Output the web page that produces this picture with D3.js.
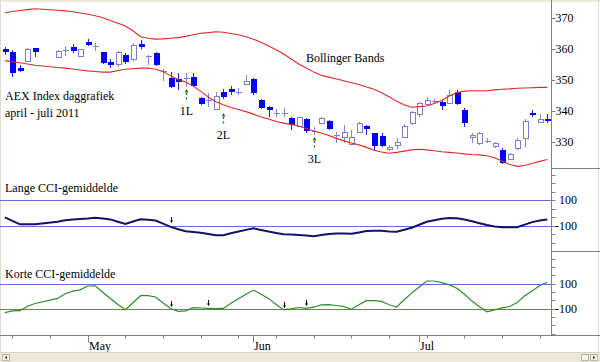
<!DOCTYPE html>
<html>
<head>
<meta charset="utf-8">
<script src="https://cdn.jsdelivr.net/npm/d3@7"></script>
<style>
  body { margin: 0; background: #fff; }
  svg { display: block; font-family: "Liberation Serif", "Times New Roman", serif; }
</style>
</head>
<body>
<svg id="chart" width="600" height="362"></svg>
<script>
// trading days (Euronext closed on 22 and 25 April)
const dates = [
  "2011-04-15", "2011-04-18", "2011-04-19", "2011-04-20", "2011-04-21",
  "2011-04-26", "2011-04-27", "2011-04-28", "2011-04-29",
  "2011-05-02", "2011-05-03", "2011-05-04", "2011-05-05", "2011-05-06",
  "2011-05-09", "2011-05-10", "2011-05-11", "2011-05-12", "2011-05-13",
  "2011-05-16", "2011-05-17", "2011-05-18", "2011-05-19", "2011-05-20",
  "2011-05-23", "2011-05-24", "2011-05-25", "2011-05-26", "2011-05-27",
  "2011-05-30", "2011-05-31", "2011-06-01", "2011-06-02", "2011-06-03",
  "2011-06-06", "2011-06-07", "2011-06-08", "2011-06-09", "2011-06-10",
  "2011-06-13", "2011-06-14", "2011-06-15", "2011-06-16", "2011-06-17",
  "2011-06-20", "2011-06-21", "2011-06-22", "2011-06-23", "2011-06-24",
  "2011-06-27", "2011-06-28", "2011-06-29", "2011-06-30", "2011-07-01",
  "2011-07-04", "2011-07-05", "2011-07-06", "2011-07-07", "2011-07-08",
  "2011-07-11", "2011-07-12", "2011-07-13", "2011-07-14", "2011-07-15",
  "2011-07-18", "2011-07-19", "2011-07-20", "2011-07-21", "2011-07-22",
  "2011-07-25", "2011-07-26"
];

const open = [
  359.8, 359.0, 353.8, 356.2, 360.2,
  357.3, 359.3, 360.7, 357.8,
  362.1, 360.6, 358.9, 355.7, 355.1,
  358.0, 356.6, 361.4, 357.6, 358.7,
  352.9, 350.5, 350.2, 350.4, 351.0,
  344.3, 343.4, 340.6, 346.0, 347.1,
  345.9, 348.7, 350.3, 343.5, 341.4,
  339.2, 339.2, 337.7, 335.3, 337.3,
  333.6, 336.0, 336.9, 332.2, 331.7,
  329.4, 333.3, 335.2, 332.8, 332.0,
  327.8, 329.1, 331.5, 336.0, 338.9,
  342.2, 343.0, 343.0, 342.7, 346.0,
  340.3, 331.5, 329.6, 330.3, 328.8,
  327.5, 324.6, 328.2, 331.2, 339.3,
  336.6, 337.4
];
const high = [
  360.6, 359.6, 354.8, 360.2, 360.4,
  359.6, 361.0, 361.4, 359.9,
  363.1, 361.8, 359.1, 356.7, 359.4,
  358.7, 362.0, 362.8, 358.0, 359.1,
  353.5, 352.6, 352.3, 352.3, 352.3,
  344.6, 345.8, 346.2, 347.0, 348.0,
  347.3, 351.6, 350.5, 343.8, 341.7,
  340.5, 340.9, 338.0, 338.2, 337.7,
  335.0, 338.2, 337.1, 333.3, 335.5,
  333.9, 336.6, 335.5, 333.0, 332.8,
  329.1, 331.2, 335.7, 340.0, 343.0,
  344.4, 343.8, 343.5, 346.8, 346.8,
  340.9, 332.8, 333.3, 331.4, 330.1,
  328.0, 326.6, 331.2, 337.4, 340.3,
  338.9, 338.9
];
const low = [
  358.0, 351.0, 352.5, 355.9, 357.5,
  356.9, 357.7, 358.7, 357.7,
  360.9, 359.3, 355.1, 353.8, 354.1,
  355.0, 356.2, 359.8, 354.8, 354.5,
  349.6, 347.3, 346.8, 347.6, 347.8,
  341.9, 341.3, 340.3, 343.8, 345.1,
  345.1, 348.4, 345.1, 340.6, 338.2,
  338.2, 338.2, 333.9, 334.9, 333.0,
  332.3, 335.7, 333.9, 329.6, 329.6,
  329.0, 332.8, 332.3, 327.2, 328.3,
  327.2, 327.7, 331.2, 335.5, 338.2,
  341.7, 342.3, 340.3, 342.3, 341.9,
  334.8, 329.6, 329.1, 329.6, 328.0,
  323.0, 324.2, 327.5, 328.5, 338.0,
  336.2, 336.2
];
const close = [
  359.0, 352.3, 353.0, 359.8, 359.0,
  359.4, 359.5, 359.4, 359.8,
  361.3, 360.8, 355.5, 354.8, 358.9,
  355.9, 361.2, 360.5, 357.7, 354.8,
  353.0, 347.6, 349.2, 350.6, 348.1,
  342.3, 343.6, 344.9, 344.4, 346.0,
  346.1, 349.6, 345.9, 340.9, 340.3,
  339.3, 339.4, 335.5, 338.0, 333.6,
  333.7, 337.7, 334.1, 332.4, 333.2,
  331.5, 336.0, 334.1, 328.7, 328.7,
  328.5, 330.1, 335.3, 339.6, 342.5,
  343.5, 343.1, 341.6, 345.1, 342.3,
  336.0, 332.3, 333.0, 330.4, 329.6,
  323.2, 326.2, 330.7, 336.9, 338.7,
  337.4, 336.9
];

const bbUpper = [
  371.6, 372.0, 372.3, 372.6, 372.9,
  372.4, 372.2, 371.9, 371.5,
  371.1, 370.6, 370.0, 369.1, 368.2,
  367.3, 365.8, 363.9, 363.4, 363.1,
  363.2, 363.4, 363.6, 364.0, 364.5,
  365.0, 365.2, 365.5, 365.3, 364.9,
  364.5, 363.9, 363.1, 362.1, 360.9,
  359.7, 358.3, 356.7, 355.1, 353.8,
  352.5, 351.5, 350.9, 350.3, 349.7,
  349.1, 348.5, 347.7, 347.0, 345.9,
  344.6, 343.1, 342.0, 341.2, 341.4,
  341.6, 342.4, 343.4, 344.8, 345.9,
  346.4, 346.5, 346.5, 346.5, 346.8,
  347.0, 347.1, 347.3, 347.4, 347.5,
  347.6, 347.6
];
const bbLower = [
  356.2, 355.8, 355.5, 355.1, 354.7,
  354.0, 353.8, 353.5, 353.2,
  352.9, 352.7, 352.5, 352.5, 353.0,
  353.4, 353.6, 353.8, 353.8, 353.4,
  352.7, 351.3, 350.1, 349.3, 348.0,
  346.3, 344.5, 343.0, 342.0, 341.1,
  340.5, 339.8, 339.0, 338.1, 337.4,
  336.6, 336.1, 335.7, 335.2, 334.4,
  333.6, 332.9, 332.1, 331.2, 330.4,
  329.7, 329.1, 328.3, 327.4, 326.8,
  326.4, 326.7, 327.1, 327.5, 327.7,
  327.5, 327.2, 326.9, 326.7, 326.5,
  326.2, 326.0, 325.9, 325.6, 325.0,
  323.9, 322.8, 322.2, 322.5, 323.1,
  323.8, 324.4
];

const cciLong = [
  -36.5, -63.1, -90.6, -90.6, -90.6,
  -71.0, -59.2, -53.7, -49.8,
  -45.9, -39.6, -44.3, -52.2, -70.2,
  -87.5, -68.6, -51.4, -55.3, -60.8,
  -85.9, -111.0, -129.8, -144.7, -151.0,
  -157.3, -167.5, -176.9, -176.1, -161.2,
  -147.8, -134.5, -122.0, -134.5, -146.3,
  -158.0, -169.0, -171.4, -173.7, -179.2,
  -183.9, -174.5, -165.9, -162.7, -163.5,
  -165.1, -154.1, -143.9, -141.6, -141.6,
  -146.3, -148.6, -133.7, -117.3, -93.7,
  -70.2, -58.4, -47.4, -42.0, -43.5,
  -53.7, -67.1, -82.0, -96.1, -107.1,
  -114.1, -114.1, -113.3, -92.9, -73.3,
  -61.6, -52.2
];
const cciShort = [
  -133.6, -119.2, -117.6, -81.6, -60.0,
  -19.2, 18.4, 39.2, 48.8,
  80.0, 80.8, 29.6, -20.0, -68.0,
  -109.6, -54.4, 2.4, 2.4, -8.0,
  -55.2, -100.0, -123.2, -119.2, -93.6,
  -96.0, -98.4, -100.8, -99.2, -58.4,
  -22.4, 13.6, 47.2, 13.6, -19.2,
  -67.2, -109.6, -103.2, -92.0, -98.4,
  -89.6, -71.2, -69.6, -76.0, -85.6,
  -105.6, -69.6, -37.6, -37.6, -43.2,
  -70.4, -88.0, -30.4, 23.2, 72.0,
  120.0, 120.0, 107.2, 88.8, 61.6,
  13.6, -40.8, -86.4, -126.4, -111.2,
  -94.4, -84.0, -52.8, 2.4, 40.8,
  84.0, 110.4
];

const priceTicks = [330, 340, 350, 360, 370];
const cciTicks = [100, -100];

// small black arrows on the CCI lines
const longMarks = ["2011-05-17"];
const shortMarks = ["2011-05-17", "2011-05-24", "2011-06-07", "2011-06-10"];

// green "L" signals under the candles
const signalDates = ["2011-05-19", "2011-05-26", "2011-06-13"];
const signalLabels = ["1L", "2L", "3L"];
const signalPrices = [347.1, 339.3, 331.7];

const svg = d3.select("#chart");
const W = 600, H = 362;
const axisX = 551.5;
const axisY = 335.5;

const parseDate = d3.timeParse("%Y-%m-%d");
const days = dates.map(parseDate);
const first = days[0], last = days[days.length - 1];
const isWeekday = d => d.getDay() !== 0 && d.getDay() !== 6;
const slotOf = d => d3.timeDay.range(first, d).filter(isWeekday).length;

const x = d3.scaleLinear().domain([0, slotOf(last)]).range([4.9, 547.3]);
const yP = d3.scaleLinear().domain([330, 370]).range([142.1, 17.7]);
const yL = d3.scaleLinear().domain([-100, 100]).range([225.5, 200]);
const yS = d3.scaleLinear().domain([-100, 100]).range([308.5, 283.5]);

const rows = days.map((d, i) => ({
  date: dates[i], slot: slotOf(d),
  o: open[i], h: high[i], l: low[i], c: close[i],
  up: bbUpper[i], lo: bbLower[i], cl: cciLong[i], cs: cciShort[i]
}));
const bySlotDate = new Map(rows.map(r => [r.date, r]));
const px = d => Math.round(x(d.slot));

// frame
svg.append("rect").attr("width", W).attr("height", H).attr("fill", "#fff");
svg.append("rect").attr("width", W).attr("height", 2).attr("fill", "#ece9d8");
svg.append("line").attr("x1", 0.5).attr("x2", 0.5).attr("y1", 0).attr("y2", 352)
  .attr("stroke", "#dedbd0");
svg.append("line").attr("x1", 598.5).attr("x2", 598.5).attr("y1", 0).attr("y2", 352)
  .attr("stroke", "#dedbd0");

// CCI reference lines
const refG = svg.append("g").attr("stroke", "#6a6ad4").attr("stroke-width", 1);
[yL, yS].forEach(sc => {
  refG.selectAll(null)
    .data(cciTicks)
    .enter()
    .append("line")
    .attr("x1", 0).attr("x2", axisX)
    .attr("y1", d => Math.round(sc(d)) + 0.5)
    .attr("y2", d => Math.round(sc(d)) + 0.5);
});

// Candles
const bear = d => d.c < d.o;
const doji = d => Math.abs(d.c - d.o) < 0.4;
const candleG = svg.append("g");

candleG.selectAll("line.wick")
  .data(rows)
  .enter()
  .append("line")
  .attr("x1", d => px(d) + 0.5)
  .attr("x2", d => px(d) + 0.5)
  .attr("y1", d => Math.round(yP(d.h)))
  .attr("y2", d => Math.round(yP(d.l)))
  .attr("stroke", d => bear(d) ? "#2020f0" : "#8484dc");

candleG.selectAll("rect.filled")
  .data(rows.filter(d => bear(d) && !doji(d)))
  .enter()
  .append("rect")
  .attr("x", d => px(d) - 2)
  .attr("width", 6)
  .attr("y", d => Math.round(yP(d.o)))
  .attr("height", d => Math.max(1, Math.round(yP(d.c)) - Math.round(yP(d.o))))
  .attr("fill", "#0000ff");

candleG.selectAll("rect.hollow")
  .data(rows.filter(d => !bear(d) && !doji(d)))
  .enter()
  .append("rect")
  .attr("x", d => px(d) - 1.5)
  .attr("width", 5)
  .attr("y", d => Math.round(yP(d.c)) + 0.5)
  .attr("height", d => Math.max(1, Math.round(yP(d.o)) - Math.round(yP(d.c))))
  .attr("fill", "#fff")
  .attr("stroke", "#7c7cd8");

candleG.selectAll("line.doji")
  .data(rows.filter(doji))
  .enter()
  .append("line")
  .attr("x1", d => px(d) - 2)
  .attr("x2", d => px(d) + 4)
  .attr("y1", d => Math.round(yP(d.c)) + 0.5)
  .attr("y2", d => Math.round(yP(d.c)) + 0.5)
  .attr("stroke", "#7c7cd8");

// Bollinger bands
const band = key => d3.line().x(d => x(d.slot)).y(d => yP(d[key]));
["up", "lo"].forEach(k => {
  svg.append("path")
    .datum(rows)
    .attr("d", band(k))
    .attr("fill", "none")
    .attr("stroke", "#dc2a2a")
    .attr("stroke-width", 1.1);
});

// CCI lines
svg.append("path")
  .datum(rows)
  .attr("d", d3.line().x(d => x(d.slot)).y(d => yL(d.cl)))
  .attr("fill", "none")
  .attr("stroke", "#12126a")
  .attr("stroke-width", 2);

svg.append("path")
  .datum(rows)
  .attr("d", d3.line().x(d => x(d.slot)).y(d => yS(d.cs)))
  .attr("fill", "none")
  .attr("stroke", "#2e8b2e")
  .attr("stroke-width", 1.2);

// small black arrows
function blackArrow(cx, tipY) {
  const g = svg.append("g").attr("fill", "#000").attr("stroke", "#000");
  g.append("line").attr("x1", cx + 0.5).attr("x2", cx + 0.5)
    .attr("y1", tipY - 6).attr("y2", tipY - 2).attr("stroke-width", 1);
  g.append("path").attr("stroke", "none")
    .attr("d", `M${cx - 1},${tipY - 2.5}L${cx + 2},${tipY - 2.5}L${cx + 0.5},${tipY}Z`);
}
longMarks.forEach(d => {
  const r = bySlotDate.get(d);
  blackArrow(px(r), Math.round(yL(r.cl)) - 4);
});
shortMarks.forEach(d => {
  const r = bySlotDate.get(d);
  blackArrow(px(r), Math.round(yS(r.cs)) - 2);
});

// green L signals
signalDates.forEach((d, i) => {
  const r = bySlotDate.get(d);
  const cx = px(r) + 0.5;
  const tip = Math.round(yP(signalPrices[i]));
  const g = svg.append("g");
  g.append("path")
    .attr("d", `M${cx - 2},${tip + 3.5}L${cx + 2},${tip + 3.5}L${cx},${tip}Z`)
    .attr("fill", "#108010");
  g.append("line")
    .attr("x1", cx).attr("x2", cx)
    .attr("y1", tip + 4).attr("y2", tip + 12)
    .attr("stroke", "#108010")
    .attr("stroke-width", 1.4)
    .attr("stroke-dasharray", "2,2.5");
  g.append("text")
    .attr("x", cx).attr("y", tip + 26)
    .attr("text-anchor", "middle")
    .attr("font-size", 12)
    .text(signalLabels[i]);
});

// right axis
const axisG = svg.append("g").attr("stroke", "#808080");
axisG.append("line").attr("x1", axisX).attr("x2", axisX).attr("y1", 0).attr("y2", axisY);
[168.5, 251.5].forEach(yy => {
  axisG.append("line").attr("x1", axisX).attr("x2", W).attr("y1", yy).attr("y2", yy);
});
axisG.append("line").attr("x1", 0).attr("x2", W).attr("y1", axisY).attr("y2", axisY);

// price ticks
axisG.selectAll("line.pt")
  .data(priceTicks)
  .enter()
  .append("line")
  .attr("x1", axisX).attr("x2", axisX + 4)
  .attr("y1", d => Math.round(yP(d)) + 0.5)
  .attr("y2", d => Math.round(yP(d)) + 0.5);
svg.selectAll("text.pt")
  .data(priceTicks)
  .enter()
  .append("text")
  .attr("x", 555.5)
  .attr("y", d => yP(d) + 4)
  .attr("font-size", 12)
  .text(d => d);

// CCI ticks (minor every 200/3)
const minor = d3.range(-9, 12).map(k => -100 + k * 200 / 3);
[[yL, 168.5, 251.5], [yS, 251.5, axisY]].forEach(([sc, top, bot]) => {
  axisG.selectAll(null)
    .data(minor.filter(v => sc(v) > top + 2 && sc(v) < bot - 1))
    .enter()
    .append("line")
    .attr("x1", axisX).attr("x2", axisX + 4)
    .attr("y1", d => Math.round(sc(d)) + 0.5)
    .attr("y2", d => Math.round(sc(d)) + 0.5);
  svg.selectAll(null)
    .data(cciTicks)
    .enter()
    .append("text")
    .attr("x", 577)
    .attr("y", d => sc(d) + 4)
    .attr("text-anchor", "end")
    .attr("font-size", 12)
    .text(d => d);
});

// bottom time axis
const endDay = d3.timeDay.offset(last, 1);
const mondays = d3.timeMonday.range(first, endDay);
const monthStarts = d3.timeMonth.range(d3.timeDay.offset(first, 1), endDay).map(m => {
  let d = m;
  while (!isWeekday(d)) d = d3.timeDay.offset(d, 1);
  return d;
});
const xd = d => Math.round(x(slotOf(d))) + 0.5;

axisG.selectAll("line.wk")
  .data(mondays)
  .enter()
  .append("line")
  .attr("x1", xd).attr("x2", xd)
  .attr("y1", axisY).attr("y2", axisY + 3);
axisG.selectAll("line.mo")
  .data(monthStarts)
  .enter()
  .append("line")
  .attr("x1", xd).attr("x2", xd)
  .attr("y1", axisY).attr("y2", axisY + 7);
svg.selectAll("text.mo")
  .data(monthStarts)
  .enter()
  .append("text")
  .attr("x", d => xd(d) + 0.5)
  .attr("y", 350)
  .attr("font-size", 12)
  .text(d3.timeFormat("%b"));

// titles
const titles = [
  ["AEX Index daggrafiek", 5, 100],
  ["april - juli 2011", 5, 117],
  ["Bollinger Bands", 306, 62],
  ["Lange CCI-gemiddelde", 5, 191.5],
  ["Korte CCI-gemiddelde", 5, 278]
];
svg.selectAll("text.title")
  .data(titles)
  .enter()
  .append("text")
  .attr("x", d => d[1])
  .attr("y", d => d[2])
  .attr("font-size", 12)
  .text(d => d[0]);

// scrollbar strip
const sb = svg.append("g");
sb.append("rect").attr("x", 0).attr("y", 352).attr("width", W).attr("height", 10).attr("fill", "#ece9d8");
sb.append("line").attr("x1", 0).attr("x2", W).attr("y1", 352.5).attr("y2", 352.5).attr("stroke", "#d6d3c6");
[[2.5, "M5,357.5L7,355.5L7,359.5Z"], [590.5, "M595,357.5L593,355.5L593,359.5Z"]].forEach(([bx, arr]) => {
  sb.append("rect").attr("x", bx).attr("y", 354.5).attr("width", 7).attr("height", 6)
    .attr("fill", "#f4f3ee").attr("stroke", "#b8b5a8");
  sb.append("path").attr("d", arr).attr("fill", "#333");
});
sb.append("rect").attr("x", 581.5).attr("y", 354.5).attr("width", 7).attr("height", 6)
  .attr("fill", "#f4f3ee").attr("stroke", "#b8b5a8");
</script>
</body>
</html>
